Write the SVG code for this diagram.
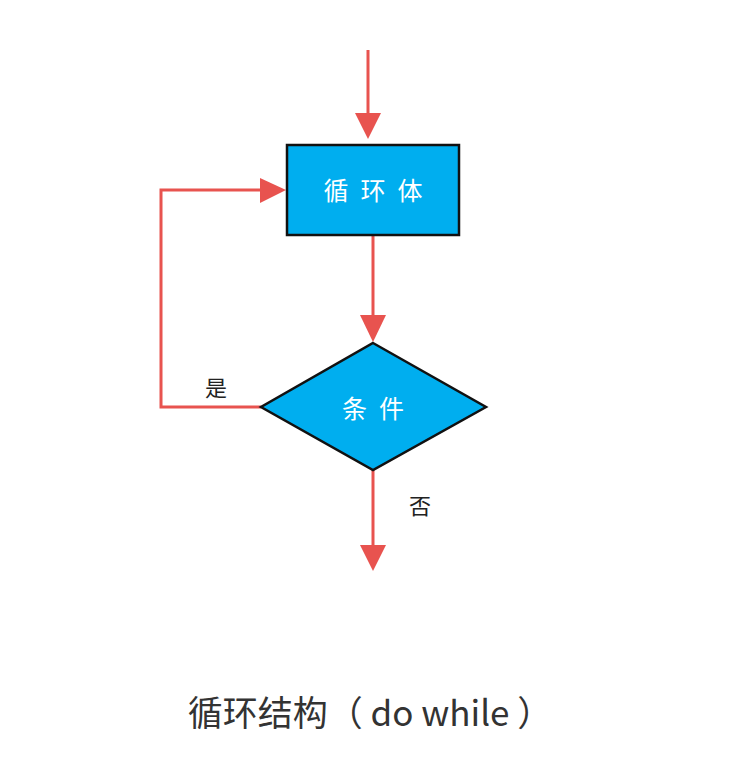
<svg xmlns="http://www.w3.org/2000/svg" width="754" height="772" viewBox="0 0 754 772">
<style>
.edge{fill:none;stroke:#E8534F;stroke-width:3}
.head{fill:#E8534F}
.shape{fill:#00AEEF;stroke:#111;stroke-width:2.5}
.nt{font-family:"Noto Sans CJK SC",sans-serif;font-size:25px;fill:#fff;text-anchor:middle;letter-spacing:12px}
.lbl{font-family:"Noto Sans CJK SC",sans-serif;font-size:22px;fill:#222;text-anchor:middle}
.cap{font-family:"Noto Sans CJK SC",sans-serif;font-size:35px;fill:#333;text-anchor:middle}
</style>
<rect width="754" height="772" fill="#fff"/>
<g id="connectors">
<line class="edge" x1="368" y1="50" x2="368" y2="116"/>
<polygon class="head" points="355,113 381,113 368,139"/>
<polyline class="edge" points="261,407 161,407 161,190 262,190"/>
<polygon class="head" points="260,178 260,203 286,190"/>
<line class="edge" x1="373" y1="235" x2="373" y2="318"/>
<polygon class="head" points="360,315 386,315 373,342"/>
<line class="edge" x1="373" y1="470" x2="373" y2="548"/>
<polygon class="head" points="360,545 386,545 373,571"/>
<text class="lbl" x="216" y="396">是</text>
<text class="lbl" x="420" y="514">否</text>
</g>
<g id="loop-body">
<rect class="shape" x="287" y="145" width="172" height="90"/>
<text class="nt" x="379" y="200">循环体</text>
</g>
<g id="condition">
<polygon class="shape" points="373,343 486,407 373,470 261,407"/>
<text class="nt" x="379" y="418">条件</text>
</g>
<text class="cap" x="370" y="726">循环结构（ do while ）</text>
</svg>
